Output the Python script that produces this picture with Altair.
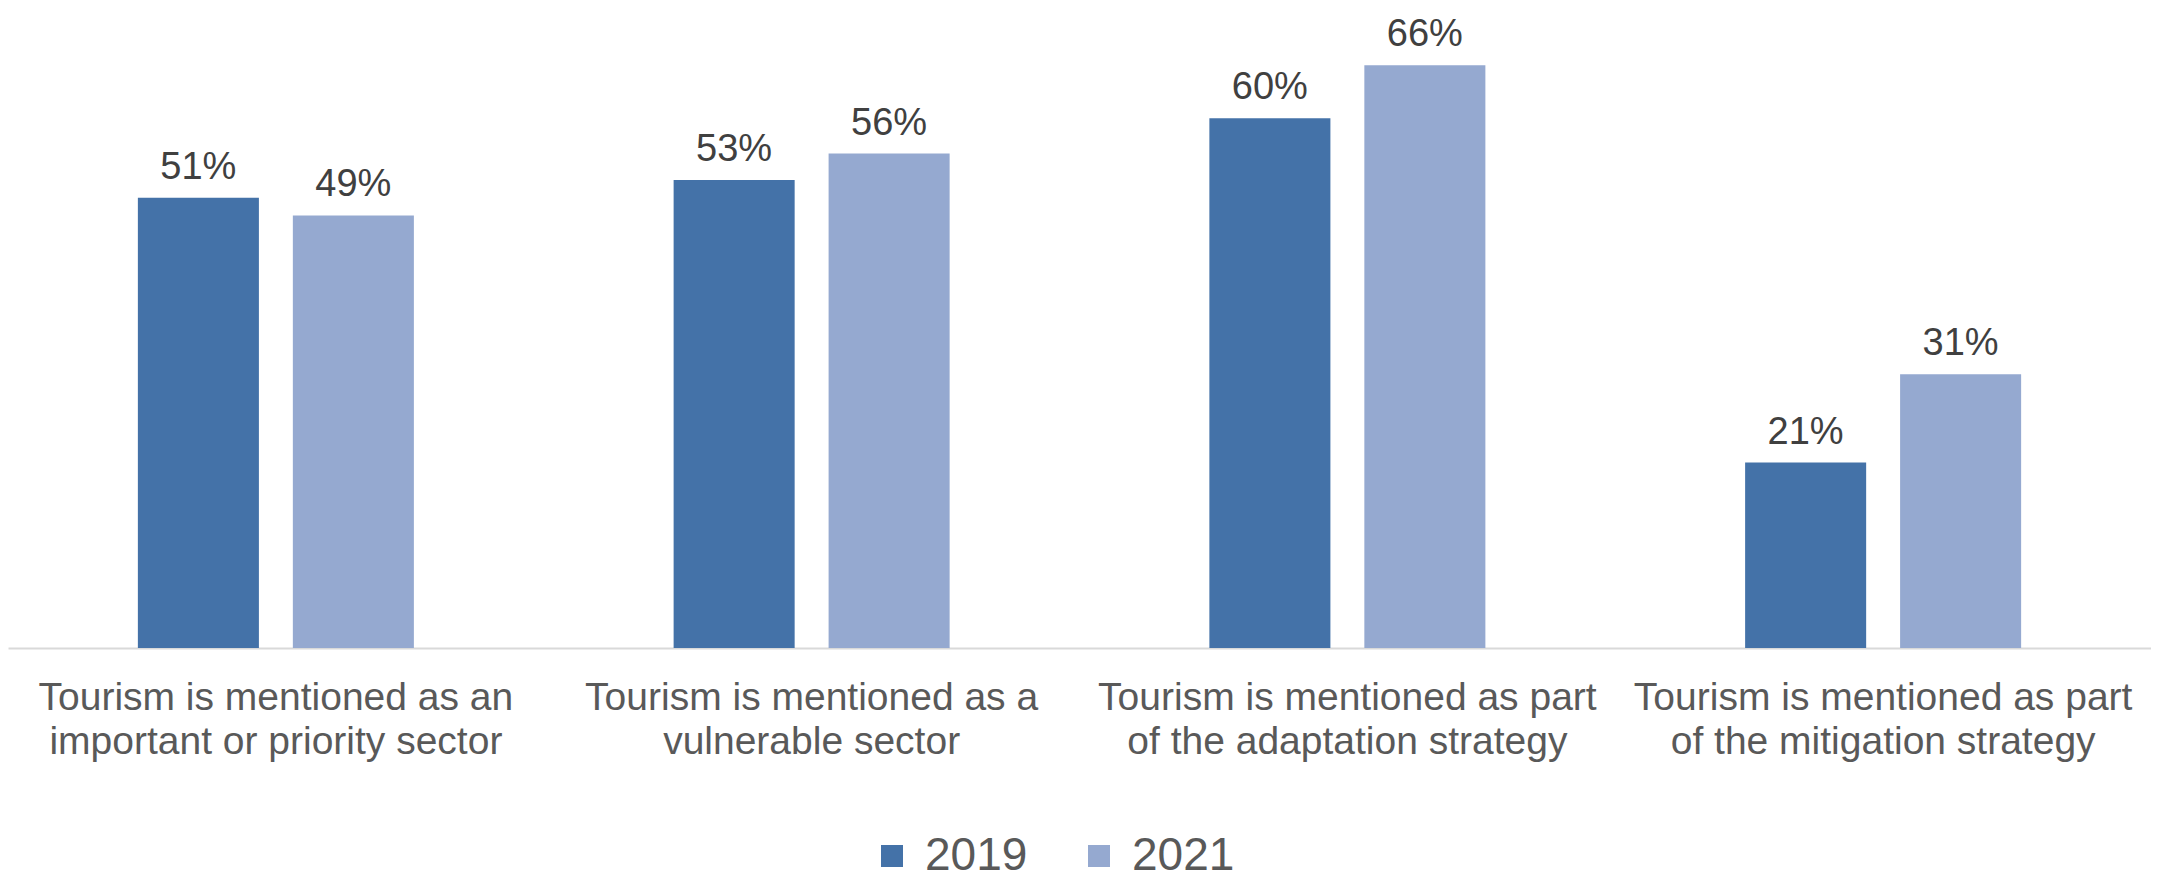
import altair as alt
import pandas as pd

categories = [
    "Tourism is mentioned as an|important or priority sector",
    "Tourism is mentioned as a|vulnerable sector",
    "Tourism is mentioned as part|of the adaptation strategy",
    "Tourism is mentioned as part|of the mitigation strategy",
]
years = ["2019", "2021"]
values_2019 = [51, 53, 60, 21]
values_2021 = [49, 56, 66, 31]
colors = ["#4472A8", "#95A9D0"]

rows = []
for c, a, b in zip(categories, values_2019, values_2021):
    rows.append({"category": c, "year": years[0], "value": a})
    rows.append({"category": c, "year": years[1], "value": b})
df = pd.DataFrame(rows)

FONT = "Liberation Sans"

x_enc = alt.X(
    "category:N",
    sort=categories,
    title=None,
    scale=alt.Scale(paddingInner=0, paddingOuter=0),
    axis=alt.Axis(
        labelExpr="split(datum.label, '|')",
        labelAngle=0,
        labelFont=FONT,
        labelFontSize=39,
        labelColor="#595959",
        labelLineHeight=44,
        labelPadding=30,
        labelBaseline="top",
        labelLimit=0,
        ticks=False,
        domainColor="#D9D9D9",
        domainWidth=2,
        grid=False,
    ),
)
xoff = alt.XOffset(
    "year:N",
    sort=years,
    scale=alt.Scale(paddingInner=0.219, paddingOuter=0.838),
)
y_enc = alt.Y(
    "value:Q",
    title=None,
    scale=alt.Scale(domain=[0, 70], nice=False),
    axis=None,
)

base = alt.Chart(df)

bars = base.mark_bar().encode(
    x=x_enc,
    xOffset=xoff,
    y=y_enc,
    color=alt.Color(
        "year:N",
        sort=years,
        scale=alt.Scale(domain=years, range=colors),
        legend=alt.Legend(
            title=None,
            orient="none",
            legendX=861,
            legendY=803,
            direction="horizontal",
            symbolType="square",
            symbolSize=484,
            symbolStrokeWidth=0,
            labelFont=FONT,
            labelFontSize=46,
            labelColor="#595959",
            labelOffset=10,
            columnPadding=48,
        ),
    ),
)

labels = base.mark_text(
    baseline="alphabetic",
    dy=-19,
    font=FONT,
    fontSize=38,
    color="#404040",
).transform_calculate(
    label="datum.value + '%'"
).encode(
    x=x_enc,
    xOffset=xoff,
    y=y_enc,
    text="label:N",
)

chart = (
    alt.layer(bars, labels)
    .properties(
        width=2143,
        height=618,
        background="white",
        autosize=alt.AutoSizeParams(type="none"),
        padding={"top": 22, "bottom": 231, "left": 0, "right": 0},
    )
    .configure_view(stroke=None)
)

chart.save("out.html", embed_options={"renderer": "svg", "actions": False})
